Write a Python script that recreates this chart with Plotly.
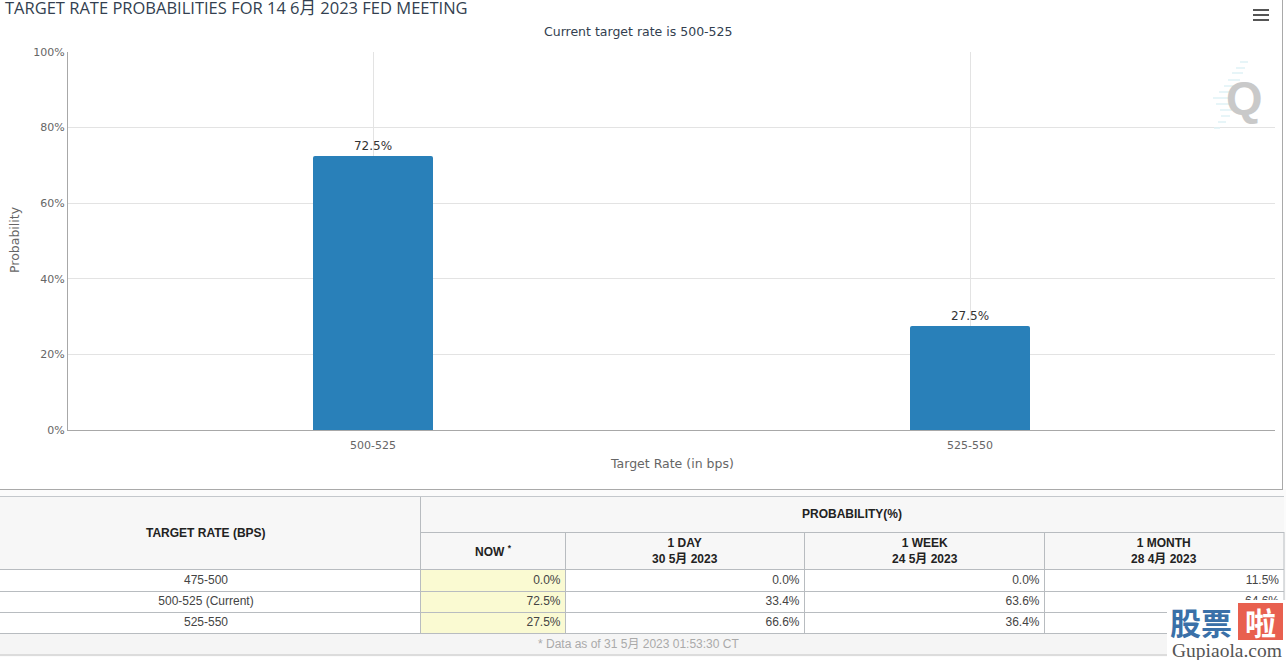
import plotly.graph_objects as go

# Chart data
target_rates = ['500-525', '525-550']
probabilities = [72.5, 27.5]
bar_labels = ['72.5%', '27.5%']

# Table data
table_rates = ['475-500', '500-525 (Current)', '525-550']
now_col = ['0.0%', '72.5%', '27.5%']
day_col = ['0.0%', '33.4%', '66.6%']
week_col = ['0.0%', '63.6%', '36.4%']
month_col = ['11.5%', '64.6%', '23.9%']
col_heads = ['NOW <sup>*</sup>', '1 DAY<br>30 5月 2023', '1 WEEK<br>24 5月 2023', '1 MONTH<br>28 4月 2023']

W, H = 1286, 660
TABLE_FONT = 'Liberation Sans, Noto Sans CJK SC'
CHART_FONT = 'DejaVu Sans, Noto Sans CJK SC'
TITLE_FONT = 'Open Sans, Noto Sans CJK SC'
GRID = '#e3e3e3'
EDGE = '#b8bcc0'


def px(x):
    return x / W


def py(y):
    return 1 - y / H


shapes = []
annots = []


def rect(x0, y0, x1, y1, fill, layer='below'):
    shapes.append(dict(type='rect', xref='paper', yref='paper', layer=layer,
                       x0=px(x0), x1=px(x1), y0=py(y0), y1=py(y1), fillcolor=fill,
                       line=dict(width=0)))


def hline(x0, x1, y, color, width=1):
    shapes.append(dict(type='line', xref='paper', yref='paper', layer='above',
                       x0=px(x0), x1=px(x1), y0=py(y), y1=py(y),
                       line=dict(color=color, width=width)))


def vline(x, y0, y1, color, width=1):
    shapes.append(dict(type='line', xref='paper', yref='paper', layer='above',
                       x0=px(x), x1=px(x), y0=py(y0), y1=py(y1),
                       line=dict(color=color, width=width)))


def label(x, y, text, size=12, color='#333333', font=TABLE_FONT, xanchor='center', **kw):
    annots.append(dict(xref='paper', yref='paper', x=px(x), y=py(y), text=text, showarrow=False,
                       xanchor=xanchor, yanchor='middle', borderpad=0,
                       font=dict(size=size, color=color, family=font), **kw))


# Page pieces around the chart
rect(0, 489, W, 657, '#fbfbfb')
vline(1282.5, 0, 489, '#a9a9a9', 1)
hline(0, 1283, 489.5, '#a9a9a9', 1)

# Table backgrounds and rules
col_x = [420.5, 565.5, 804.5, 1044.5, 1284]
row_y = [569.5, 591.5, 612.5, 633.5]
rect(0, 497, 1284, 569, '#f7f7f7')
rect(0, 569, 1284, 633, '#ffffff')
rect(420, 569, 565, 633, '#fafad2')
rect(0, 633, 1284, 654, '#f5f5f5')
rect(0, 654, 1284, 656, '#dcdcdc')
hline(0, 1284, 496.5, '#c4c8cc')
hline(420, 1284, 532.5, EDGE)
for y in row_y:
    hline(0, 1284, y, EDGE)
vline(col_x[0], 497, 633, EDGE)
for x in col_x[1:]:
    vline(x, 532, 633, EDGE)

# Hamburger menu
for y in (10, 15, 20):
    hline(1253, 1269, y, '#555555', 2)

# Watermark streaks beside the Q
streaks = [(1240, 1248, 62), (1236, 1245, 68), (1232, 1243, 73), (1228, 1240, 80), (1224, 1236, 86),
           (1219, 1232, 92), (1213, 1232, 98), (1216, 1232, 104), (1220, 1232, 110), (1221, 1230, 116),
           (1218, 1226, 122), (1214, 1220, 128)]
for x0, x1, y in streaks:
    hline(x0, x1, y, '#dff2f6', 1.5)

# Chart texts
label(4, 7, 'TARGET RATE PROBABILITIES FOR 14 6月 2023 FED MEETING', size=16.5, color='#333f50',
      font=TITLE_FONT, xanchor='left')
label(638, 31, 'Current target rate is 500-525', size=12.5, color='#333f50', font=CHART_FONT)
label(1244, 98, '<b>Q</b>', size=47, color='#c9c9c9', font='Liberation Sans')
label(14, 240, 'Probability', size=12.5, color='#666666', font=CHART_FONT, textangle=-90)
label(672, 463, 'Target Rate (in bps)', size=12.5, color='#666666', font=CHART_FONT)

# Table header texts
label(206, 533, '<b>TARGET RATE (BPS)</b>', size=12, color='#222222')
label(852, 514, '<b>PROBABILITY(%)</b>', size=12, color='#222222')
for i, head in enumerate(col_heads):
    label((col_x[i] + col_x[i + 1]) / 2, 550.5, '<b>' + head + '</b>', size=12, color='#222222')
label(638, 644, '* Data as of 31 5月 2023 01:53:30 CT', size=12, color='#aaaaaa')

# Site stamp in the corner, covers the table body text drawn by the traces
rect(1167, 600, W, H, '#ffffff', layer='above')
rect(1238, 603, 1283, 640, '#e8604f', layer='above')
label(1201, 621, '<b>股票</b>', size=31, color='#3a70a8', font='Noto Sans CJK SC')
label(1260, 621, '<b>啦</b>', size=31, color='#ffffff', font='Noto Sans CJK SC')
label(1227, 650, 'Gupiaola.com', size=19.5, color='#555555', font='Liberation Serif')

fig = go.Figure(go.Bar(
    x=[0, 1], y=probabilities, width=120 / 597,
    marker=dict(color='#2980b9', line=dict(width=0), cornerradius=2),
    text=bar_labels, textposition='outside', cliponaxis=False,
    textfont=dict(size=12, color='#333333', family=CHART_FONT),
))

# Table body text, on a page-sized hidden axis pair
body_y = [580.5, 601.5, 623]
fig.add_trace(go.Scatter(
    x=[206] * 3, y=body_y, text=table_rates, mode='text', textposition='middle center',
    textfont=dict(size=12, color='#444444', family=TABLE_FONT),
    xaxis='x2', yaxis='y2', hoverinfo='skip',
))
for c, col in enumerate([now_col, day_col, week_col, month_col]):
    fig.add_trace(go.Scatter(
        x=[col_x[c + 1] - 5] * 3, y=body_y, text=col, mode='text', textposition='middle left',
        textfont=dict(size=12, color='#444444', family=TABLE_FONT),
        xaxis='x2', yaxis='y2', hoverinfo='skip',
    ))

fig.update_layout(
    width=W, height=H,
    margin=dict(l=0, r=0, t=0, b=0),
    paper_bgcolor='white', plot_bgcolor='rgba(0,0,0,0)',
    showlegend=False,
    shapes=shapes, annotations=annots,
    xaxis=dict(
        domain=[px(68), px(1275)],
        range=[-305 / 597, 1 + 305 / 597],
        tickvals=[0, 1], ticktext=target_rates,
        tickfont=dict(size=11, color='#666666', family=CHART_FONT),
        showgrid=True, gridcolor=GRID, gridwidth=1, zeroline=False,
        showline=True, linecolor='#a8a8a8', linewidth=1,
        automargin=False, ticks='outside', ticklen=5, tickcolor='rgba(0,0,0,0)',
    ),
    yaxis=dict(
        domain=[py(430), py(52)],
        range=[0, 100],
        tick0=0, dtick=20, ticksuffix='%',
        tickfont=dict(size=11, color='#666666', family=CHART_FONT),
        showgrid=True, gridcolor=GRID, gridwidth=1, zeroline=False,
        showline=True, linecolor='#a8a8a8', linewidth=1,
        automargin=False,
    ),
    xaxis2=dict(domain=[0, 1], range=[0, W], visible=False, fixedrange=True, automargin=False),
    yaxis2=dict(domain=[0, 1], range=[H, 0], visible=False, fixedrange=True, automargin=False),
)

fig.write_html("out.html", config={'displayModeBar': False},
               post_script="document.body.style.margin='0';")
